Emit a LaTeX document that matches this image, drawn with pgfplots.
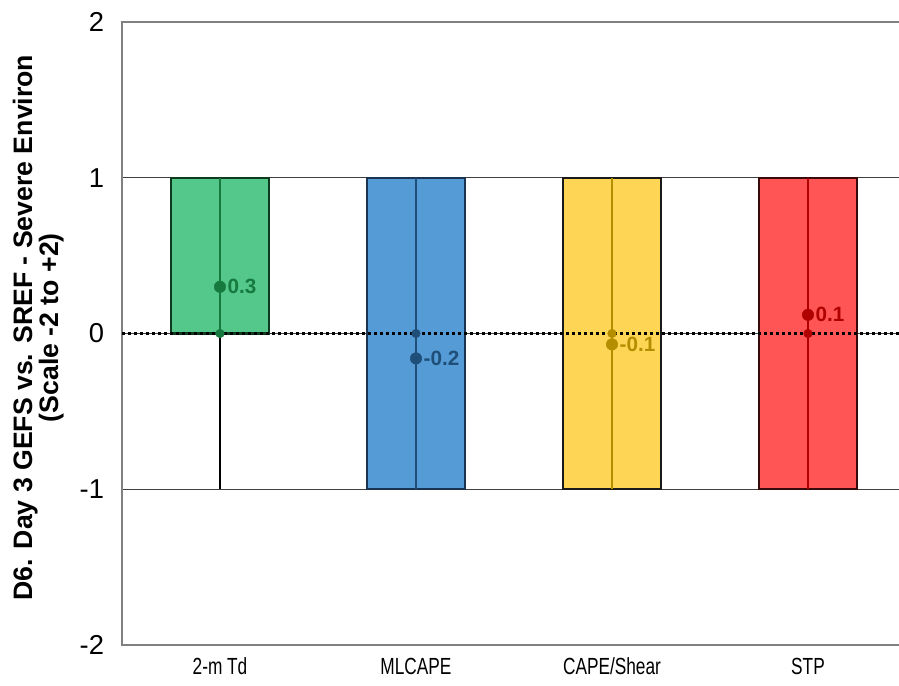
\documentclass[border=0pt]{standalone}
\usepackage{pgfplots}
\pgfplotsset{compat=1.18}
\usepackage{fontspec}
\setmainfont{Liberation Sans}
\newfontfamily\narrowfont[FakeStretch=0.74]{Liberation Sans}
\definecolor{gfill}{HTML}{54C88A}
\definecolor{gdark}{HTML}{167A3E}
\definecolor{gedge}{HTML}{0E3A1E}
\definecolor{bfill}{HTML}{559CD7}
\definecolor{bdark}{HTML}{1F4E79}
\definecolor{bedge}{HTML}{1A3350}
\definecolor{yfill}{HTML}{FFD555}
\definecolor{ydark}{HTML}{B48E00}
\definecolor{yedge}{HTML}{1A1A1A}
\definecolor{rfill}{HTML}{FF5555}
\definecolor{rdark}{HTML}{B00000}
\definecolor{redge}{HTML}{3A0A0A}
\begin{document}
\begin{tikzpicture}[x=1pt,y=1pt]
\path[use as bounding box] (0,0) rectangle (674.25,513.75);
\node[rotate=90, align=center, font=\bfseries\fontsize{20}{19.5}\selectfont] at (28.6,268) {D6. Day 3 GEFS vs. SREF - Severe Environ\\(Scale -2 to +2)};
\begin{axis}[
  at={(91.5pt,30pt)}, anchor=south west,
  scale only axis, width=588pt, height=467.25pt,
  xmin=-0.5, xmax=3.5, ymin=-2, ymax=2,
  xtick={0,1,2,3}, xticklabels={2-m Td, MLCAPE, CAPE/Shear, STP},
  ytick={-2,-1,0,1,2}, yticklabels={-2,-1,0,1,2},
  major tick length=0pt,
  ymajorgrids, grid style={black!75, line width=0.8pt},
  axis line style={draw=black!50, line width=1.2pt},
  xticklabel style={font=\narrowfont\fontsize{17.5}{20}\selectfont, yshift=-6pt},
  yticklabel style={font=\fontsize{20.5}{24}\selectfont, xshift=-10pt},
]
% whiskers
\addplot[black, line width=1.6pt] coordinates {(0,-1) (0,1)};
\addplot[black, line width=1.6pt] coordinates {(1,-1) (1,1)};
\addplot[black, line width=1.6pt] coordinates {(2,-1) (2,1)};
\addplot[black, line width=1.6pt] coordinates {(3,-1) (3,1)};
% boxes
\addplot[fill=gfill, draw=gedge, line width=1.7pt] coordinates {(-0.25,0) (0.25,0) (0.25,1) (-0.25,1)} -- cycle;
\addplot[fill=bfill, draw=bedge, line width=1.7pt] coordinates {(0.75,-1) (1.25,-1) (1.25,1) (0.75,1)} -- cycle;
\addplot[fill=yfill, draw=yedge, line width=1.7pt] coordinates {(1.75,-1) (2.25,-1) (2.25,1) (1.75,1)} -- cycle;
\addplot[fill=rfill, draw=redge, line width=1.7pt] coordinates {(2.75,-1) (3.25,-1) (3.25,1) (2.75,1)} -- cycle;
% center lines
\addplot[gdark, line width=1.6pt] coordinates {(0,0) (0,1)};
\addplot[bdark, line width=1.6pt] coordinates {(1,-1) (1,1)};
\addplot[ydark, line width=1.6pt] coordinates {(2,-1) (2,1)};
\addplot[rdark, line width=1.6pt] coordinates {(3,-1) (3,1)};
% medians
\addplot[only marks, mark=*, mark size=3.2pt, gdark] coordinates {(0,0)};
\addplot[only marks, mark=*, mark size=3.2pt, bdark] coordinates {(1,0)};
\addplot[only marks, mark=*, mark size=3.2pt, ydark] coordinates {(2,0)};
\addplot[only marks, mark=*, mark size=3.2pt, rdark] coordinates {(3,0)};
% zero line
\addplot[black, line width=2.4pt, dash pattern=on 2.3pt off 2.2pt] coordinates {(-0.5,0) (3.5,0)};
% means
\pgfplotsset{meanstyle/.style={only marks, mark=*, mark size=4.3pt, #1,
  point meta=explicit symbolic, nodes near coords={\pgfplotspointmeta},
  nodes near coords style={anchor=west, text=#1, font=\bfseries\fontsize{15.5}{18}\selectfont, xshift=2.2pt}}}
\addplot[meanstyle=gdark] coordinates {(0,0.30) [0.3]};
\addplot[meanstyle=bdark] coordinates {(1,-0.16) [-0.2]};
\addplot[meanstyle=ydark] coordinates {(2,-0.07) [-0.1]};
\addplot[meanstyle=rdark] coordinates {(3,0.12) [0.1]};
\end{axis}
\end{tikzpicture}
\end{document}
